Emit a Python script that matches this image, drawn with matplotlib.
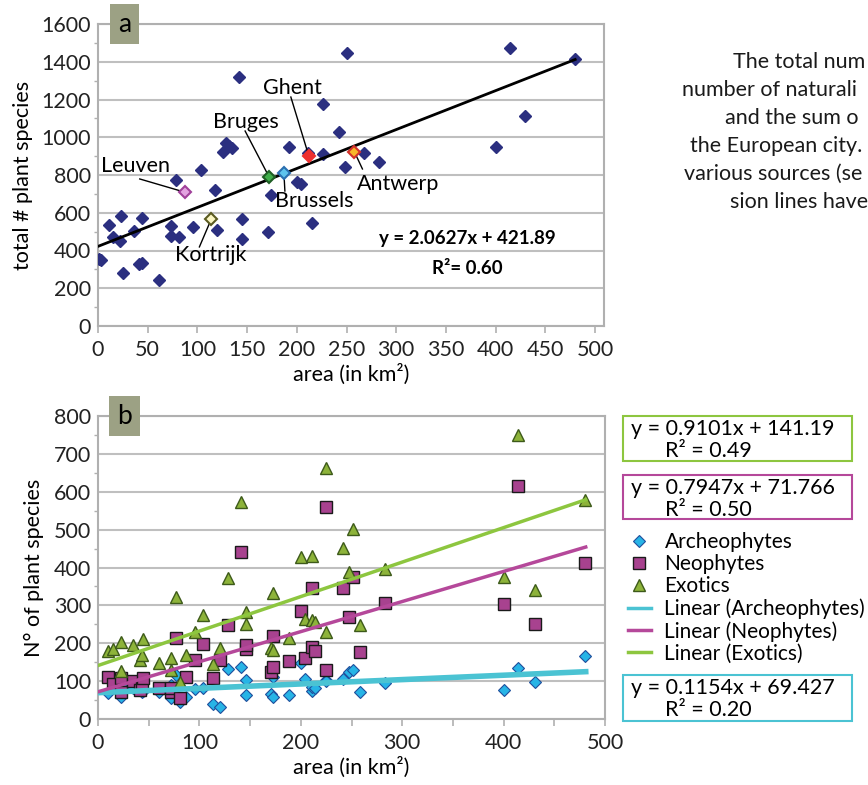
import matplotlib
matplotlib.use("Agg")
import matplotlib.pyplot as plt
import numpy as np
from matplotlib.lines import Line2D
from matplotlib.patches import Rectangle

plt.rcParams['font.family'] = ['Lato', 'DejaVu Sans']

# ---- panel a: total number of plant species vs area ----
area_a = [1, 3, 11, 15, 22.5, 23, 25, 36, 41, 44, 44, 61, 73, 73, 78, 81, 96, 104, 118, 120,
          126, 129, 132, 135, 142, 145, 145, 171, 174, 192, 200, 204, 211, 215, 226, 226, 242, 248, 250, 268,
          283, 400, 414, 430, 480]
total_a = [353, 350, 535, 470, 452, 585, 279, 505, 328, 332, 572, 242, 531, 477, 773, 473, 526, 826, 720, 509,
           924, 971, 955, 945, 1319, 569, 459, 496, 696, 947, 763, 751, 917, 544, 1176, 913, 1028, 844, 1445, 915,
           867, 947, 1475, 1111, 1416]

cities = ["Leuven", "Kortrijk", "Bruges", "Brussels", "Ghent", "Antwerp"]
city_area = [88, 114, 172, 187, 212, 258]
city_total = [708, 567, 791, 812, 902, 922]
city_face = ['#e3a3e0', '#fbf6c2', '#3fae49', '#5ec4ee', '#ee3030', '#f8b72a']
city_edge = ['#a0409a', '#5a5a20', '#1e5e24', '#2a6fb0', '#ee3030', '#d2302a']
# label centre / line start (data coords)
label_xy = [(38, 848), (113, 376), (149, 1081), (218, 662), (196, 1261), (302, 752)]
line_start = [(42, 779), (102, 419), (148, 1033), (188, 715), (194, 1213), (266, 832)]

slope_a, icpt_a = 2.0627, 421.89

# ---- panel b: archeophytes / neophytes / exotics ----
area_b = [10, 14.6, 22.5, 22.5, 35, 41, 43, 44, 60, 72, 72, 77, 81, 87, 96, 104, 113, 120, 128, 141.5,
          146, 146, 171, 173, 173, 188, 200, 204, 211, 211, 214, 225, 225, 242, 248, 251, 258, 283, 400, 414,
          431, 480]
arch = [68, 85, 59, 90, 81, 77, 72, 75, 72, 55, 90, 116, 46, 59, 79, 81, 39, 33, 131, 136,
        63, 103, 66, 59, 112, 63, 149, 105, 74, 85, 81, 103, 100, 105, 123, 129, 72, 94, 77, 134,
        99, 167]
neo = [112, 92, 72, 107, 100, 77, 90, 107, 81, 72, 83, 213, 55, 112, 156, 199, 108, 156, 248, 441,
       185, 195, 123, 136, 220, 154, 285, 160, 191, 345, 180, 561, 129, 347, 268, 376, 178, 305, 304, 616,
       250, 411]
exo = [180, 184, 127, 204, 195, 156, 169, 210, 147, 129, 160, 321, 99, 169, 231, 275, 144, 187, 373, 574,
       250, 283, 187, 182, 332, 213, 428, 263, 261, 430, 257, 664, 229, 451, 389, 501, 248, 395, 376, 750,
       341, 578]

series_names = ["Archeophytes", "Neophytes", "Exotics"]
slopes_b = [0.1154, 0.7947, 0.9101]
icpts_b = [69.427, 71.766, 141.19]
r2_b = ["0.20", "0.50", "0.49"]

caption = ["The total num", "number of naturali", "and the sum o",
           "the European city.", "various sources (se", "sion lines have"]

W, H = 868, 785
fig = plt.figure(figsize=(W / 100, H / 100), dpi=100)

grid_c = '#bfbfbf'
spine_c = '#b0b0b0'
FS = 15.5


def style_axes(ax):
    for s in ax.spines.values():
        s.set_color(spine_c)
        s.set_linewidth(1.5)
    ax.yaxis.grid(True, color=grid_c, lw=1.5)
    ax.set_axisbelow(True)
    ax.tick_params(axis='both', labelsize=FS, colors='#222222', length=0, pad=5)
    ax.tick_params(axis='x', which='both', length=5, color=spine_c, width=1.2)
    ax.tick_params(axis='y', which='minor', length=3, color=spine_c, width=1, direction='out')


def px_axes(l, t, r, b):
    return fig.add_axes([l / W, 1 - b / H, (r - l) / W, (b - t) / H])


def panel_tag(ax, letter, width_px):
    ax.text(26.5 / width_px, 1.0, letter, transform=ax.transAxes, fontsize=19, ha='center', va='center',
            bbox=dict(boxstyle='square,pad=0.3', fc='#9ca184', ec='none'), zorder=10)


# panel a
ax = px_axes(98, 24, 604, 326)
style_axes(ax)
ax.set_xlim(0, 509)
ax.set_ylim(0, 1600)
ax.set_xticks(np.arange(0, 501, 50))
ax.set_yticks(np.arange(0, 1601, 200))
ax.set_yticks(np.arange(0, 1601, 100), minor=True)
ax.plot(area_a, total_a, 'D', color='#2b2f80', ms=6, mec='#2b2f80', zorder=3)
xl = np.array([0, 480])
ax.plot(xl, slope_a * xl + icpt_a, color='black', lw=2, zorder=4)
for i, name in enumerate(cities):
    ax.plot(city_area[i], city_total[i], 'D', ms=6, mfc=city_face[i], mec=city_edge[i], mew=1.5, zorder=5)
    ax.plot([line_start[i][0], city_area[i]], [line_start[i][1], city_total[i]], color='black', lw=1, zorder=4)
    ax.text(label_xy[i][0], label_xy[i][1], name, fontsize=FS, ha='center', va='center', zorder=6)
ax.text(372, 461, "y = 2.0627x + 421.89", fontsize=13.5, fontweight='bold', ha='center', va='center')
ax.text(372, 307, "R²= 0.60", fontsize=13.5, fontweight='bold', ha='center', va='center')
ax.set_xlabel("area (in km²)", fontsize=FS, labelpad=3)
ax.set_ylabel("total # plant species", fontsize=FS, labelpad=6)
panel_tag(ax, "a", 506)

# panel b
bx = px_axes(98, 416, 605, 719)
style_axes(bx)
bx.set_xlim(0, 500)
bx.set_ylim(0, 800)
bx.set_xticks(np.arange(0, 501, 100))
bx.set_xticks(np.arange(0, 501, 50), minor=True)
bx.set_yticks(np.arange(0, 801, 100))
bx.set_yticks(np.arange(0, 801, 50), minor=True)

h_arch, = bx.plot(area_b, arch, 'D', ms=6.5, mfc='#27b4e6', mec='#1f4e9c', mew=0.8, zorder=3)
h_neo, = bx.plot(area_b, neo, 's', ms=8, mfc='#a8428f', mec='#1a1a1a', mew=1, zorder=3)
h_exo, = bx.plot(area_b, exo, '^', ms=8.5, mfc='#8db33a', mec='#3d5a1a', mew=1, zorder=3)

line_cols = ['#4bc3d3', '#b5489a', '#8dc63f']
line_w = [4, 2.5, 2.5]
xb = np.array([0, 481])
for k in range(3):
    bx.plot(xb, slopes_b[k] * xb + icpts_b[k], color=line_cols[k], lw=line_w[k], zorder=4)
bx.set_xlabel("area (in km²)", fontsize=FS, labelpad=3)
bx.set_ylabel("N° of plant species", fontsize=FS, labelpad=7)
panel_tag(bx, "b", 507)

# legend
leg_h = [h_arch, h_neo, h_exo,
         Line2D([], [], color=line_cols[0], lw=2.5),
         Line2D([], [], color=line_cols[1], lw=2.5),
         Line2D([], [], color=line_cols[2], lw=2.5)]
leg_l = series_names + ["Linear (%s)" % n for n in series_names]
fig.legend(leg_h, leg_l, loc='upper left', bbox_to_anchor=(628 / W, 1 - 532 / H),
           frameon=False, fontsize=15, handlelength=1.1, handletextpad=0.65,
           labelspacing=0.1, borderpad=0, borderaxespad=0)

# equation boxes: (top, bottom) in px, series index
boxes = [(416, 461, 2), (475, 519, 1), (675, 721, 0)]
for top, bot, k in boxes:
    fig.add_artist(Rectangle((623 / W, 1 - bot / H), (852 - 623) / W, (bot - top) / H,
                             transform=fig.transFigure, fill=False, ec=line_cols[k], lw=1.5))
    fig.text(631 / W, 1 - (top + 13) / H, "y = %sx + %s" % (slopes_b[k], icpts_b[k]),
             fontsize=FS, ha='left', va='center')
    fig.text(665 / W, 1 - (top + 35) / H, "R² = %s" % r2_b[k], fontsize=FS, ha='left', va='center')

# clipped caption on the right
cap_x = [733, 682, 725, 690, 684, 730]
for i, line in enumerate(caption):
    fig.text(cap_x[i] / W, 1 - (62 + 28 * i) / H, line, fontsize=15.5, ha='left', va='center', color='#1a1a1a')

fig.savefig("out.png", dpi=100)
